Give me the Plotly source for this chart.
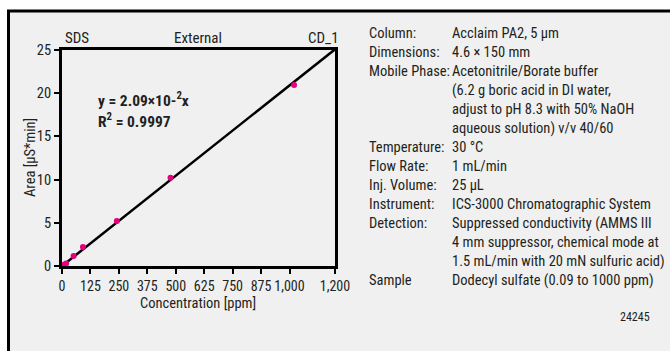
import plotly.graph_objects as go

# ---- data ----
conc_ppm = [1, 8, 18, 51, 92, 241, 477, 1020]
area_us_min = [0.05, 0.15, 0.3, 1.16, 2.2, 5.2, 10.2, 20.95]
slope = 0.0209
fit_x = [0, 1200]
x_tickvals = [0, 125, 250, 375, 500, 625, 750, 875, 1000, 1200]
x_ticktext = ["0", "125", "250", "375", "500", "625", "750", "875", "1,000", "1,200"]
y_tickvals = [0, 5, 10, 15, 20, 25]
info_labels = ["Column:", "Dimensions:", "Mobile Phase:", "", "", "", "Temperature:",
               "Flow Rate:", "Inj. Volume:", "Instrument:", "Detection:", "", "", "Sample"]
info_values = ["Acclaim PA2, 5 µm", "4.6 × 150 mm", "Acetonitrile/Borate buffer",
               "(6.2 g boric acid in DI water,", "adjust to pH 8.3 with 50% NaOH",
               "aqueous solution) v/v 40/60", "30 °C", "1 mL/min", "25 µL",
               "ICS-3000 Chromatographic System", "Suppressed conductivity (AMMS III",
               "4 mm suppressor, chemical mode at", "1.5 mL/min with 20 mN sulfuric acid)",
               "Dodecyl sulfate (0.09 to 1000 ppm)"]

W, H = 670, 351
L, T, PW, PH = 62, 50, 273, 216
FONT = "Liberation Sans Narrow, Roboto Condensed, Arial Narrow, sans-serif"
TXT = "#231f20"


def px(x):
    return (x - L) / PW


def py(y):
    return (T + PH - y) / PH


fig = go.Figure()
fig.add_trace(go.Scatter(x=fit_x, y=[slope * v for v in fit_x], mode="lines",
                         line=dict(color="black", width=2.5), showlegend=False,
                         hoverinfo="skip"))
fig.add_trace(go.Scatter(x=conc_ppm, y=area_us_min, mode="markers",
                         marker=dict(color="#e6007e", size=6), showlegend=False,
                         cliponaxis=False))

shapes = [
    dict(type="rect", xref="paper", yref="paper", x0=px(8.5), x1=px(700),
         y0=py(400), y1=py(11), fillcolor="#f0f0f0",
         line=dict(color="black", width=3), layer="below"),
]

ann = []
ann.append(dict(x=px(63), y=py(38), text="SDS", xanchor="left", yanchor="middle", size=15))
ann.append(dict(x=px(198), y=py(38), text="External", xanchor="center", yanchor="middle", size=15))
ann.append(dict(x=px(341), y=py(38), text="CD_1", xanchor="right", yanchor="middle", size=15))
ann.append(dict(x=px(96), y=py(99), text="<b>y = 2.09×10-<sup>2</sup>x</b>",
                xanchor="left", yanchor="middle", size=15.5))
ann.append(dict(x=px(96), y=py(120), text="<b>R<sup>2</sup> = 0.9997</b>",
                xanchor="left", yanchor="middle", size=15.5))
ann.append(dict(x=px(30), y=py(158), text="Area [µS*min]", textangle=-90,
                xanchor="center", yanchor="middle"))
ann.append(dict(x=px(198), y=py(303), text="Concentration [ppm]",
                xanchor="center", yanchor="middle"))
ann.append(dict(x=px(652), y=py(317), text="24245", xanchor="right", yanchor="middle",
                size=12))

y0, dy = 33, 19.0
for i, (lab, val) in enumerate(zip(info_labels, info_values)):
    yy = py(y0 + i * dy)
    if lab:
        ann.append(dict(x=px(367), y=yy, text=lab, xanchor="left", yanchor="middle"))
    ann.append(dict(x=px(450), y=yy, text=val, xanchor="left", yanchor="middle"))

for a in ann:
    size = a.pop("size", 14.5)
    a.update(xref="paper", yref="paper", showarrow=False,
             font=dict(family=FONT, size=size, color=TXT))

fig.update_layout(
    width=W, height=H,
    margin=dict(l=L, r=W - L - PW, t=T, b=H - T - PH, pad=0),
    paper_bgcolor="white", plot_bgcolor="rgba(0,0,0,0)",
    font=dict(family=FONT, size=14, color=TXT),
    shapes=shapes, annotations=ann,
    xaxis=dict(range=[0, 1200], tickvals=x_tickvals, ticktext=x_ticktext,
               showgrid=False, zeroline=False, showline=True, linecolor="black",
               linewidth=3, mirror=True, ticks="outside", ticklen=5, tickwidth=2,
               tickcolor="black", tickfont=dict(family=FONT, size=14, color=TXT)),
    yaxis=dict(range=[0, 25], tickvals=y_tickvals, showgrid=False, zeroline=False,
               showline=True, linecolor="black", linewidth=3, mirror=True,
               ticks="outside", ticklen=5, tickwidth=2, tickcolor="black",
               tickfont=dict(family=FONT, size=14.5, color=TXT)),
)

fig.write_html("out.html")
